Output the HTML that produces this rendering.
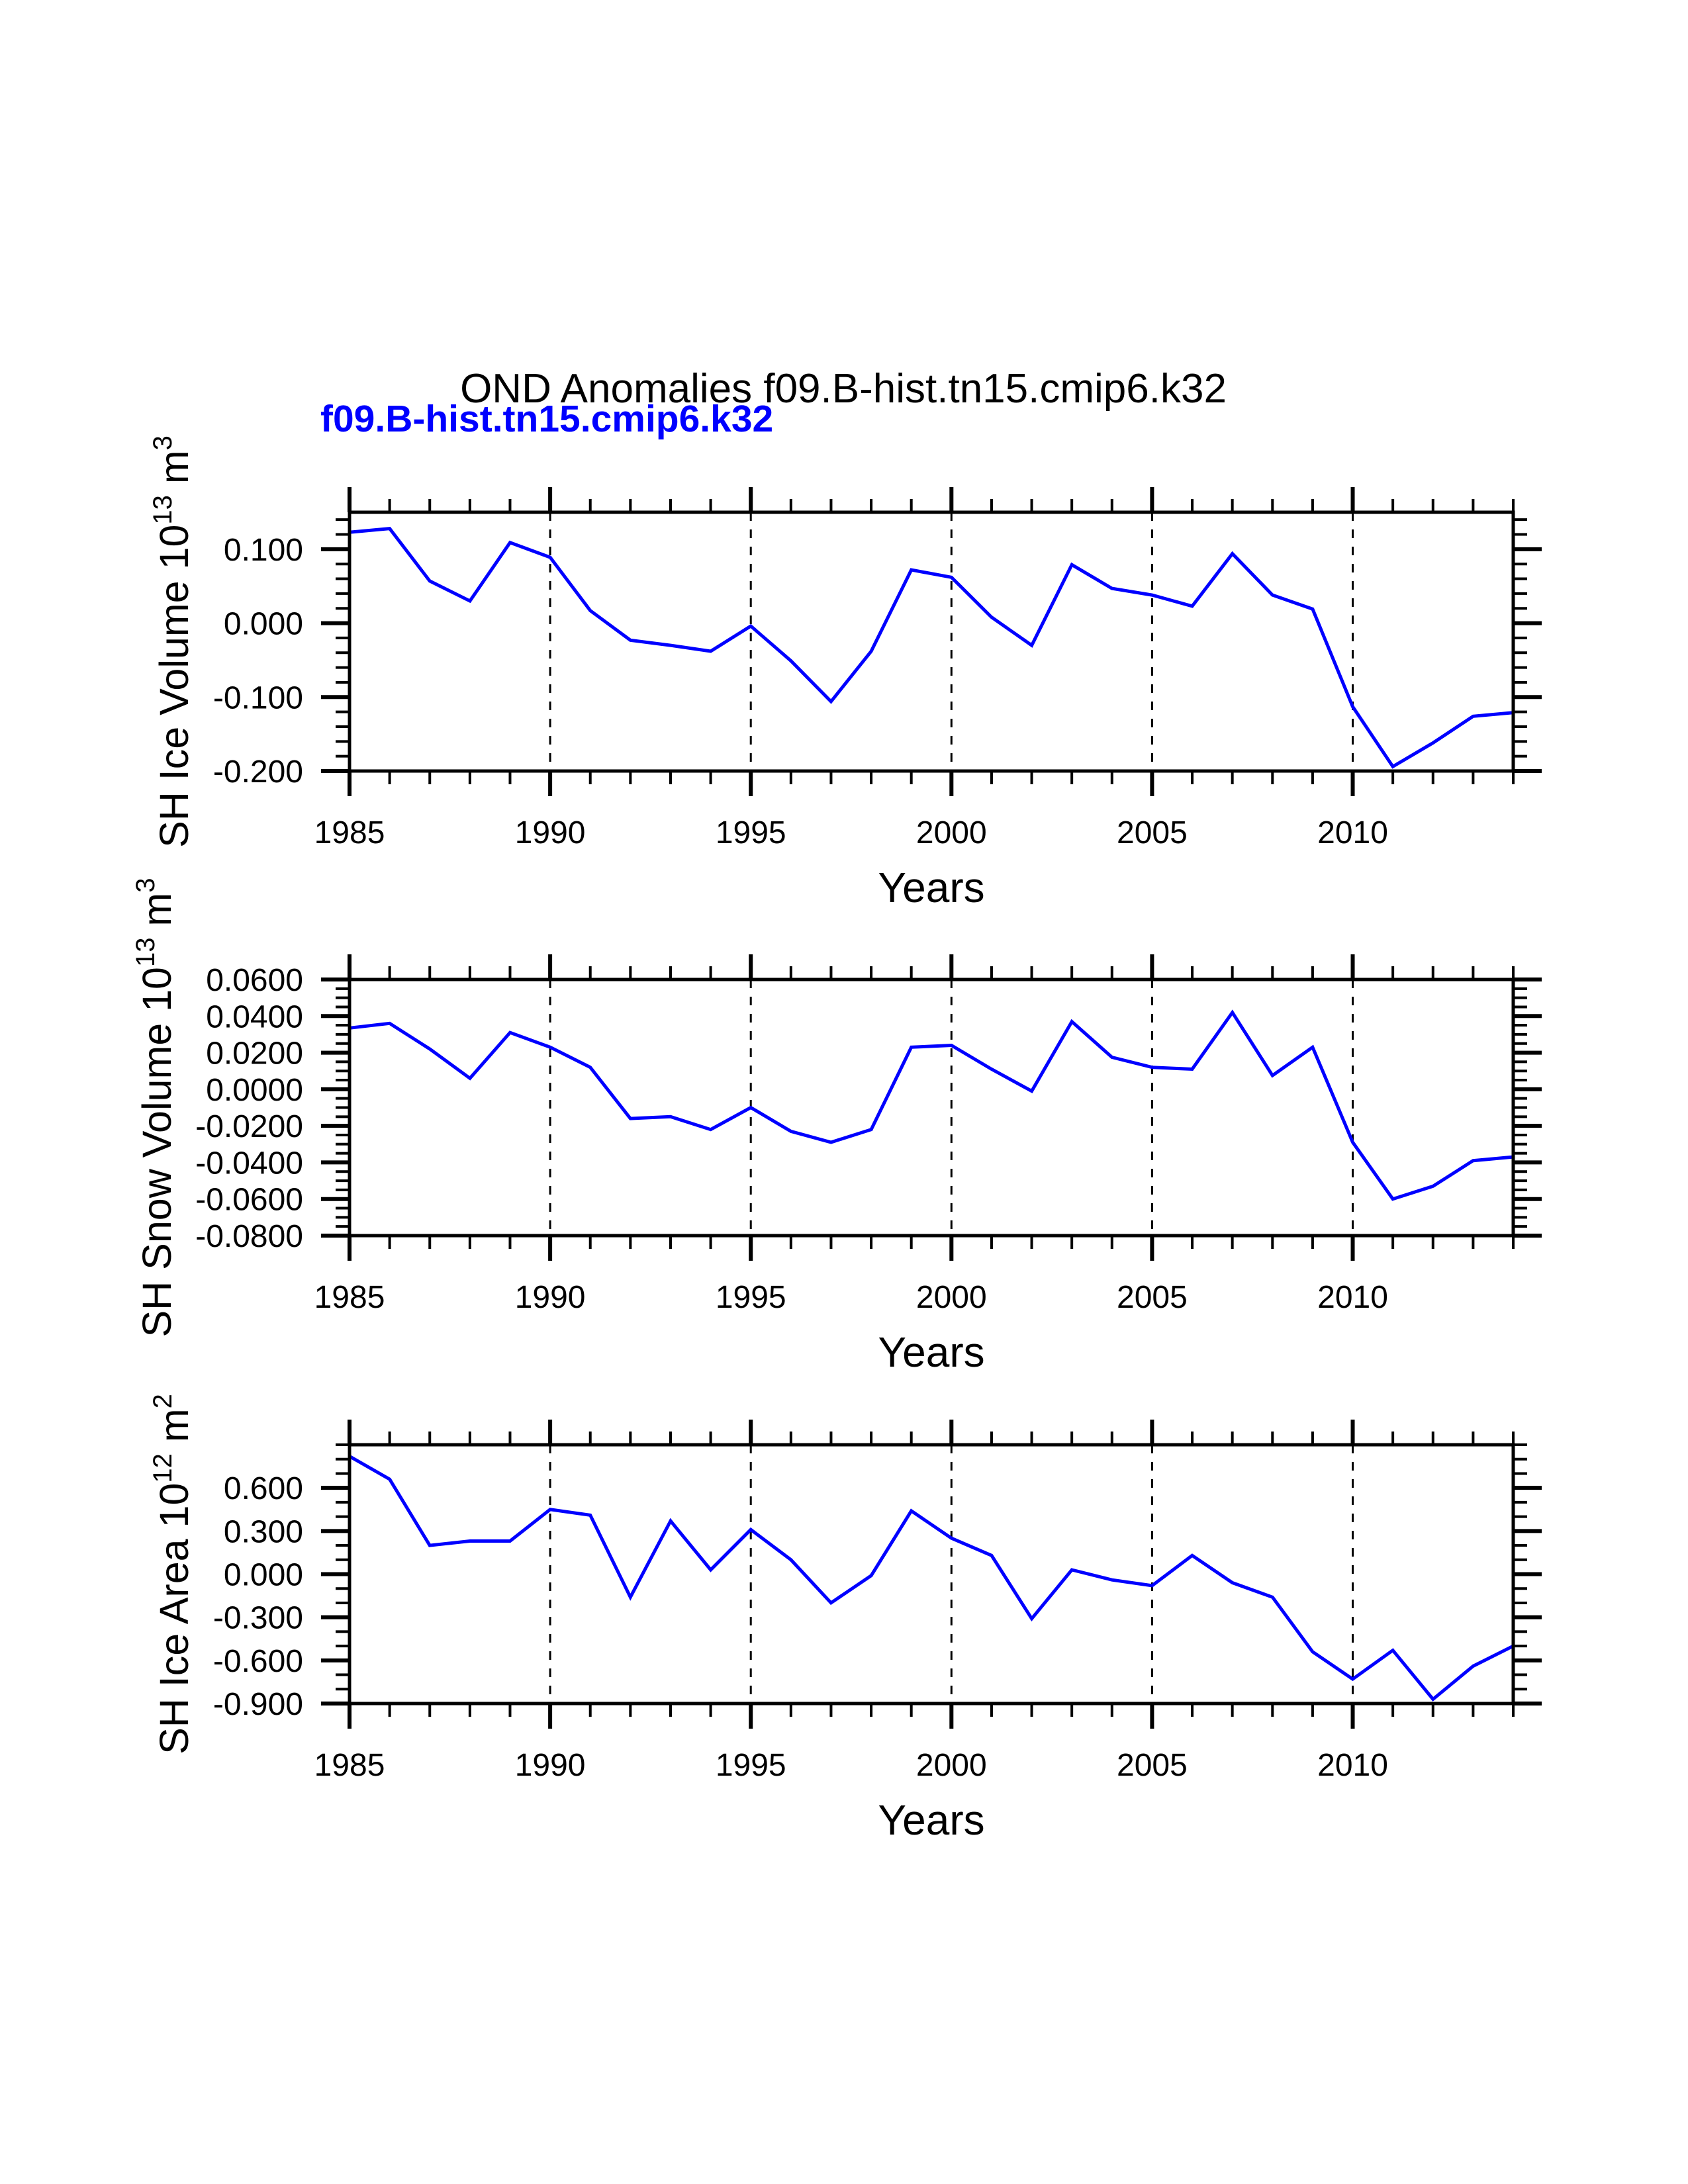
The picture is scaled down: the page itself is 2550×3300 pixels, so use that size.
<!DOCTYPE html>
<html><head><meta charset="utf-8"><style>
html,body{margin:0;padding:0;background:#fff;}
svg{display:block;font-family:"Liberation Sans",sans-serif;}
</style></head>
<body>
<svg id="chart" width="2550" height="3300" viewBox="0 0 2550 3300" xmlns="http://www.w3.org/2000/svg">
<text x="1274" y="608" font-size="62" text-anchor="middle" fill="#000">OND Anomalies f09.B-hist.tn15.cmip6.k32</text>
<text x="484" y="652" font-size="57" font-weight="bold" fill="#0000ff">f09.B-hist.tn15.cmip6.k32</text>
</svg>
<script>
const years = [1985,1986,1987,1988,1989,1990,1991,1992,1993,1994,1995,1996,1997,1998,1999,2000,2001,2002,2003,2004,2005,2006,2007,2008,2009,2010,2011,2012,2013,2014];
const iceVolume = [0.123,0.128,0.057,0.030,0.109,0.089,0.017,-0.023,-0.030,-0.038,-0.004,-0.051,-0.106,-0.038,0.072,0.062,0.008,-0.030,0.079,0.047,0.038,0.023,0.094,0.038,0.019,-0.113,-0.194,-0.162,-0.126,-0.121];
const snowVolume = [0.0335,0.036,0.022,0.006,0.031,0.023,0.012,-0.016,-0.015,-0.022,-0.010,-0.023,-0.029,-0.022,0.023,0.024,0.011,-0.001,0.037,0.0175,0.012,0.011,0.042,0.0075,0.023,-0.029,-0.060,-0.053,-0.039,-0.037];
const iceArea = [0.82,0.66,0.20,0.23,0.23,0.45,0.41,-0.16,0.37,0.03,0.31,0.10,-0.20,-0.01,0.44,0.25,0.13,-0.31,0.03,-0.04,-0.08,0.13,-0.06,-0.16,-0.54,-0.73,-0.53,-0.87,-0.64,-0.50];
const xTickLabels = [1985,1990,1995,2000,2005,2010];
const iceVolTicks = [0.1,0.0,-0.1,-0.2];
const snowVolTicks = [0.06,0.04,0.02,0.0,-0.02,-0.04,-0.06,-0.08];
const iceAreaTicks = [0.6,0.3,0.0,-0.3,-0.6,-0.9];

const NS="http://www.w3.org/2000/svg";
const svg=document.getElementById('chart');
const L=528,R=2286;
function mk(tag,attrs,parent){const e=document.createElementNS(NS,tag);for(const k in attrs)e.setAttribute(k,attrs[k]);(parent||svg).appendChild(e);return e;}

function panel(cfg){
  const g=mk('g',{});
  
  
  const T=cfg.top,B=cfg.bottom;
  const x=v=>L+(v-1985)*(R-L)/(2014-1985);
  const y=v=>B-(v-cfg.ymin)*(B-T)/(cfg.ymax-cfg.ymin);
  for(const yr of xTickLabels){ if(yr===1985)continue;
    const l=mk('line',{x1:x(yr),x2:x(yr),y1:T,y2:B,stroke:'#000','stroke-width':3,'stroke-dasharray':'13,13'},g);
    
    
  }
  const pts=cfg.data.map((v,i)=>x(years[i]).toFixed(1)+','+y(v).toFixed(1)).join(' ');
  const pl=mk('polyline',{points:pts,fill:'none',stroke:'#0000ff','stroke-width':5,'stroke-linejoin':'miter'},g);
  
  
  const fr=mk('rect',{x:L,y:T,width:R-L,height:B-T,fill:'none',stroke:'#000','stroke-width':5},g);
  
  
  for(const yr of years){
    const major=(yr%5===0);const len=major?38:20;const w=major?6:4;
    mk('line',{x1:x(yr),x2:x(yr),y1:T,y2:T-len,stroke:'#000','stroke-width':w},g);
    mk('line',{x1:x(yr),x2:x(yr),y1:B,y2:B+len,stroke:'#000','stroke-width':w},g);
  }
  for(const yr of xTickLabels){
    const t=mk('text',{x:x(yr),y:B+109,'font-size':48,'text-anchor':'middle'},g);
    t.textContent=yr;
    
    
  }
  for(let v=cfg.ymin;v<=cfg.ymax+1e-9;v+=cfg.minor){
    const yy=y(v);
    mk('line',{x1:L,x2:L-21,y1:yy,y2:yy,stroke:'#000','stroke-width':4},g);
    mk('line',{x1:R,x2:R+21,y1:yy,y2:yy,stroke:'#000','stroke-width':4},g);
  }
  for(const v of cfg.ticks){
    const yy=y(v);
    mk('line',{x1:L,x2:L-43,y1:yy,y2:yy,stroke:'#000','stroke-width':6},g);
    mk('line',{x1:R,x2:R+43,y1:yy,y2:yy,stroke:'#000','stroke-width':6},g);
    const t=mk('text',{x:L-70,y:yy+17,'font-size':48,'text-anchor':'end'},g);
    t.textContent=(Math.abs(v)<1e-9?0:v).toFixed(cfg.dec);
    
    
  }
  const xt=mk('text',{x:(L+R)/2,y:B+198,'font-size':64,'text-anchor':'middle'},g);
  xt.textContent='Years';
  
  
  const cy=(T+B)/2;
  const yt=mk('text',{x:0,y:0,'font-size':61,'text-anchor':'middle',transform:'translate('+cfg.ytx+','+cy+') rotate(-90)'},g);
  yt.innerHTML=cfg.label+' 10<tspan dy="-25" font-size="40">'+cfg.exp+'</tspan><tspan dy="25"> m</tspan><tspan dy="-25" font-size="40">'+cfg.mexp+'</tspan>';
  
  
}
panel({name:'ice-volume-panel',top:774,bottom:1165,ymin:-0.2,ymax:0.15,minor:0.02,ticks:iceVolTicks,dec:3,data:iceVolume,label:'SH Ice Volume',exp:'13',mexp:'3',ytx:284});
panel({name:'snow-volume-panel',top:1480,bottom:1867,ymin:-0.08,ymax:0.06,minor:0.005,ticks:snowVolTicks,dec:4,data:snowVolume,label:'SH Snow Volume',exp:'13',mexp:'3',ytx:258});
panel({name:'ice-area-panel',top:2183,bottom:2574,ymin:-0.9,ymax:0.9,minor:0.1,ticks:iceAreaTicks,dec:3,data:iceArea,label:'SH Ice Area',exp:'12',mexp:'2',ytx:284});
</script>
</body></html>
